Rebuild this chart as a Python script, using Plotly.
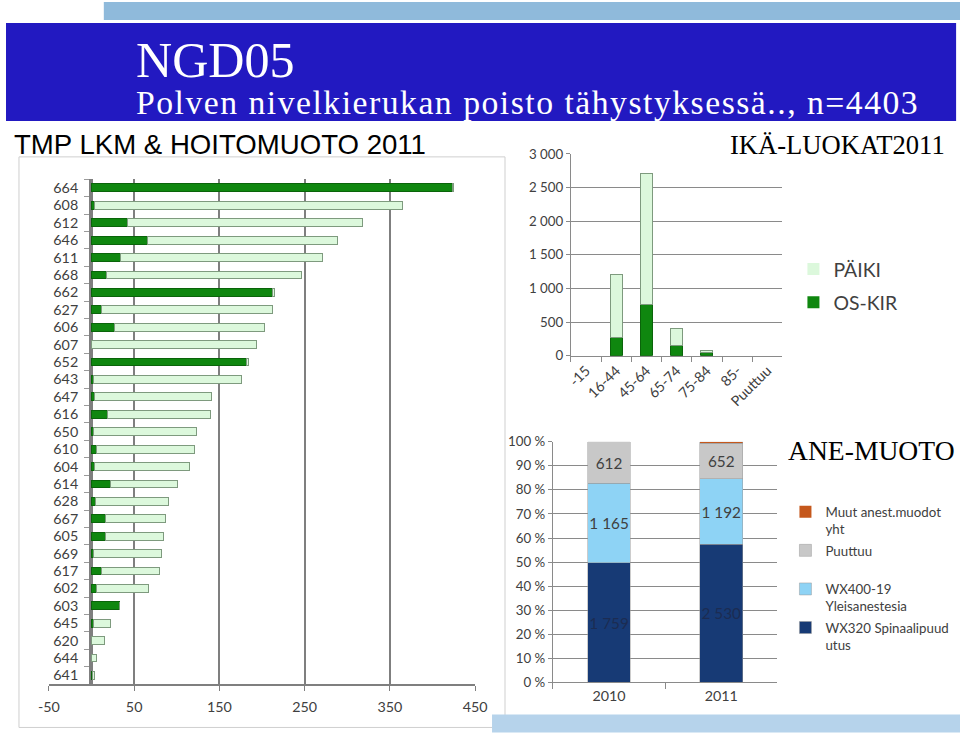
import plotly.graph_objects as go

W, H = 960, 736
# Measured mapping between figure pixels and the photographed window:
# screen_x = 0.978 * fig_x + 10, screen_y = 0.979 * fig_y + 8.
SX, OX = 0.978, 10.0
SY, OY = 0.979, 8.0
def fx(p):
    return ((p - OX) / SX) / W
def fy(p):
    return 1 - ((p - OY) / SY) / H
def fs(s):
    return round(s / SX, 1)

# ---------------- data ----------------
# Left chart: TMP LKM & HOITOMUOTO 2011
hosp = ["664", "608", "612", "646", "611", "668", "662", "627", "606", "607",
        "652", "643", "647", "616", "650", "610", "604", "614", "628", "667",
        "605", "669", "617", "602", "603", "645", "620", "644", "641"]
hosp_oskir = [424, 3, 42, 66, 34, 18, 212, 12, 27, 0, 182, 2, 3, 19, 2, 6, 4, 22,
              5, 16, 16, 2, 12, 6, 33, 2, 0, 0, 1]
hosp_paiki = [1, 362, 276, 223, 237, 228, 3, 200, 176, 193, 2, 174, 138, 120, 121,
              115, 111, 79, 85, 71, 69, 80, 68, 61, 0, 20, 15, 6, 2]
left_ticks = [-50, 50, 150, 250, 350, 450]
left_ticktext = ["-50", "50", "150", "250", "350", "450"]

# Middle chart: IKÄ-LUOKAT 2011
age_cats = ["-15", "16-44", "45-64", "65-74", "75-84", "85-", "Puuttuu"]
age_oskir = [0, 272, 757, 149, 50, 0, 0]
age_paiki = [0, 938, 1953, 256, 28, 0, 0]
age_ticks = [0, 500, 1000, 1500, 2000, 2500, 3000]
age_ticktext = ["0", "500", "1 000", "1 500", "2 000", "2 500", "3 000"]

# Bottom chart: ANE-MUOTO
years = ["2010", "2011"]
ane_wx320 = [1759, 2530]
ane_wx400 = [1165, 1192]
ane_puuttuu = [612, 652]
ane_muut = [0, 29]
pct_ticks = list(range(0, 101, 10))
pct_ticktext = [f"{v} %" for v in pct_ticks]

# ---------------- styles ----------------
DARK_G = "#0f870f"
DARK_G_LINE = "#0a640a"
LIGHT_G = "#dcf8dc"
LIGHT_G_LINE = "#7e9a7e"
TXT = "#404040"
GRID = "#8a8a8a"
FONT = "Lato"

def lw(vals, w=1):
    return [0 if v == 0 else w for v in vals]

fig = go.Figure()

# Left chart bars
fig.add_trace(go.Bar(y=hosp, x=hosp_oskir, orientation="h", name="OS-KIR",
                     marker=dict(color=DARK_G, line=dict(color=DARK_G_LINE, width=1)),
                     width=0.45, xaxis="x", yaxis="y", showlegend=False))
fig.add_trace(go.Bar(y=hosp, x=hosp_paiki, orientation="h", name="PÄIKI",
                     marker=dict(color=LIGHT_G, line=dict(color=LIGHT_G_LINE, width=1)),
                     width=0.45, xaxis="x", yaxis="y", showlegend=False))

# Middle chart bars
fig.add_trace(go.Bar(x=age_cats, y=age_oskir, name="OS-KIR",
                     marker=dict(color=DARK_G, line=dict(color=DARK_G_LINE, width=lw(age_oskir))),
                     width=0.4, xaxis="x2", yaxis="y2", legend="legend",
                     legendgroup="a1", legendrank=2))
fig.add_trace(go.Bar(x=age_cats, y=age_paiki, name="PÄIKI",
                     marker=dict(color=LIGHT_G, line=dict(color=LIGHT_G_LINE, width=lw(age_paiki))),
                     width=0.4, xaxis="x2", yaxis="y2", legend="legend",
                     legendgroup="a2", legendrank=1))

# Bottom chart bars (100 % stacked)
totals = [a + b + c + d for a, b, c, d in zip(ane_wx320, ane_wx400, ane_puuttuu, ane_muut)]
def pct(vals):
    return [100.0 * v / t for v, t in zip(vals, totals)]
def fmt(v):
    return f"{v:,}".replace(",", " ")

series = [
    ("WX320 Spinaalipuud<br>utus", ane_wx320, "#173a75", "#1c2c52", True),
    ("WX400-19<br>Yleisanestesia", ane_wx400, "#8ed3f5", TXT, True),
    ("Puuttuu<br>&nbsp;", ane_puuttuu, "#c8c8c8", TXT, True),
    ("Muut anest.muodot<br>yht", ane_muut, "#c5581c", TXT, False),
]
for i, (nm, vals, col, tcol, lab) in enumerate(series):
    fig.add_trace(go.Bar(x=years, y=pct(vals), name=nm,
                         marker=dict(color=col, line=dict(color="#9a9a9a", width=lw(vals, 0.5))),
                         width=0.38, xaxis="x3", yaxis="y3", legend="legend2",
                         legendgroup=f"b{i}", legendrank=10 - i,
                         text=[fmt(v) for v in vals] if lab else None,
                         textposition="inside", insidetextanchor="middle",
                         textangle=0, constraintext="none",
                         textfont=dict(family=FONT, size=fs(15), color=tcol),
                         hoverinfo="skip"))

axfont = dict(family=FONT, size=fs(14), color=TXT)
smallfont = dict(family=FONT, size=fs(13), color=TXT)

fig.update_layout(
    width=W, height=H, margin=dict(l=0, r=0, t=0, b=0),
    paper_bgcolor="white", plot_bgcolor="rgba(0,0,0,0)",
    barmode="stack",
    font=dict(family=FONT, color=TXT),
    xaxis=dict(domain=[fx(48), fx(475)], range=[-50, 450], tickvals=left_ticks,
               ticktext=left_ticktext,
               showgrid=True, gridcolor="#7f7f7f", gridwidth=1.5,
               zeroline=True, zerolinecolor="#7f7f7f",
               showline=True, linecolor="#7f7f7f", linewidth=1.5,
               ticks="outside", ticklen=5, tickcolor="#7f7f7f",
               tickfont=axfont, ticklabelstandoff=4, anchor="y"),
    yaxis=dict(type="category", autorange="reversed", dtick=1,
               domain=[fy(684.7), fy(179.3)], anchor="free", position=fx(89),
               showline=True, linecolor="#7f7f7f", linewidth=1.5, showgrid=False,
               ticks="outside", ticklen=5, tickcolor="#9a9a9a", tickson="boundaries",
               tickfont=axfont, ticklabelstandoff=8),
    xaxis2=dict(domain=[fx(571), fx(783)], type="category", anchor="y2",
                showline=True, linecolor=GRID, ticks="outside", ticklen=5,
                tickcolor=GRID, tickson="boundaries", tickangle=-45,
                tickfont=axfont, showgrid=False),
    yaxis2=dict(domain=[fy(356), fy(154)], range=[0, 3000], tickvals=age_ticks,
                ticktext=age_ticktext, showgrid=True, gridcolor=GRID,
                showline=True, linecolor=GRID, ticks="outside", ticklen=4,
                tickcolor=GRID, tickfont=smallfont, anchor="x2", zeroline=False),
    xaxis3=dict(domain=[fx(553), fx(778)], type="category", anchor="y3",
                showline=True, linecolor=GRID, ticks="outside", ticklen=6,
                tickcolor=GRID, tickson="boundaries", tickfont=axfont,
                showgrid=False),
    yaxis3=dict(domain=[fy(683), fy(442)], range=[0, 100], tickvals=pct_ticks,
                ticktext=pct_ticktext, showgrid=True, gridcolor=GRID,
                showline=True, linecolor=GRID, ticks="outside", ticklen=4,
                tickcolor=GRID, tickfont=smallfont, anchor="x3", zeroline=False),
    legend=dict(x=fx(794), y=fy(250), xanchor="left", yanchor="top",
                traceorder="grouped", tracegroupgap=5,
                font=dict(family=FONT, size=fs(19), color=TXT),
                itemwidth=30, bgcolor="rgba(0,0,0,0)"),
    legend2=dict(x=fx(786), y=fy(497), xanchor="left", yanchor="top",
                 traceorder="grouped", tracegroupgap=1, valign="top",
                 font=dict(family=FONT, size=fs(13), color=TXT),
                 itemwidth=30, bgcolor="rgba(0,0,0,0)"),
    showlegend=True,
)

# ---------------- decorations ----------------
shapes = [
    dict(type="rect", xref="paper", yref="paper", x0=fx(103), x1=fx(970),
         y0=fy(20), y1=fy(2), fillcolor="#8fbadb", line=dict(width=0), layer="below"),
    dict(type="rect", xref="paper", yref="paper", x0=fx(5), x1=fx(957),
         y0=fy(121), y1=fy(23), fillcolor="#2219c1", line=dict(width=0), layer="below"),
    dict(type="rect", xref="paper", yref="paper", x0=fx(18), x1=fx(505),
         y0=fy(728), y1=fy(157), fillcolor="rgba(0,0,0,0)",
         line=dict(color="#cfcfcf", width=1), layer="below"),
    dict(type="rect", xref="paper", yref="paper", x0=fx(492), x1=fx(970),
         y0=fy(733), y1=fy(715), fillcolor="#b6d3eb", line=dict(width=0), layer="below"),
]
fig.update_layout(shapes=shapes)

serif = "Liberation Serif"
annotations = [
    dict(text="NGD05", x=fx(133), y=fy(60), xanchor="left", yanchor="middle",
         font=dict(family=serif, size=fs(49), color="white")),
    dict(text='<span style="letter-spacing:1.5px">Polven nivelkierukan poisto tähystyksessä.., n=4403</span>',
         x=fx(133), y=fy(103), xanchor="left", yanchor="middle",
         font=dict(family=serif, size=fs(33), color="white")),
    dict(text="TMP LKM &amp; HOITOMUOTO 2011", x=fx(11), y=fy(145),
         xanchor="left", yanchor="middle",
         font=dict(family="Liberation Sans", size=fs(27), color="black")),
    dict(text="IKÄ-LUOKAT2011", x=fx(948), y=fy(145), xanchor="right",
         yanchor="middle", font=dict(family=serif, size=fs(26), color="black")),
    dict(text="ANE-MUOTO", x=fx(958), y=fy(451), xanchor="right",
         yanchor="middle", font=dict(family=serif, size=fs(27), color="black")),
]
for a in annotations:
    a.update(xref="paper", yref="paper", showarrow=False)
fig.update_layout(annotations=annotations)

fig.write_html("out.html")
